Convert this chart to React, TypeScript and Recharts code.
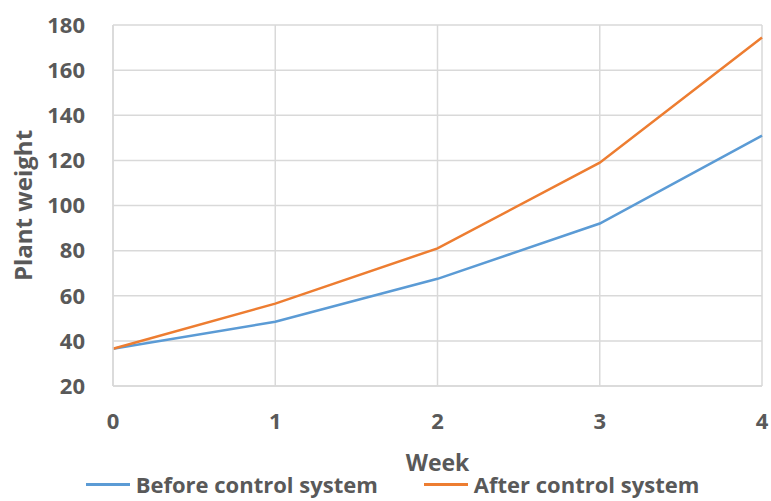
import React from "react";
import {
  LineChart,
  Line,
  XAxis,
  YAxis,
  CartesianGrid,
  Legend,
} from "recharts";

const weeks = [0, 1, 2, 3, 4];
const beforeControl = [36.5, 48.5, 67.5, 92, 131];
const afterControl = [36.5, 56.5, 81, 119, 174.5];
const yTicks = [20, 40, 60, 80, 100, 120, 140, 160, 180];

const data = weeks.map((w, i) => ({
  week: w,
  before: beforeControl[i],
  after: afterControl[i],
}));

const FONT = "'Open Sans', 'DejaVu Sans', sans-serif";
const TEXT = "#595959";
const GRID = "#d9d9d9";

const series = [
  { key: "before", name: "Before control system", color: "#5b9bd5" },
  { key: "after", name: "After control system", color: "#ed7d31" },
];

function LegendContent() {
  return (
    <div
      style={{
        display: "flex",
        justifyContent: "center",
        gap: 46,
        fontFamily: FONT,
        fontWeight: 700,
        fontSize: 22,
        color: TEXT,
        lineHeight: "22px",
      }}
    >
      {series.map((s) => (
        <div key={s.key} style={{ display: "flex", alignItems: "center" }}>
          <span
            style={{
              display: "inline-block",
              width: 44,
              height: 3,
              background: s.color,
              marginRight: 6,
            }}
          />
          {s.name}
        </div>
      ))}
    </div>
  );
}

export default function App() {
  return (
    <div style={{ position: "absolute", left: 0, top: 0, background: "#fff" }}>
      <LineChart
        width={771}
        height={501}
        data={data}
        margin={{ top: 25, right: 9, bottom: 0, left: 23 }}
      >
        <CartesianGrid stroke={GRID} strokeWidth={1.5} />
        <XAxis
          dataKey="week"
          type="number"
          domain={[0, 4]}
          ticks={weeks}
          axisLine={{ stroke: GRID, strokeWidth: 1.5 }}
          tickLine={false}
          tickSize={0}
          tickMargin={27}
          height={93}
          tick={{ fontSize: 22, fontWeight: 700, fill: TEXT, fontFamily: FONT }}
          label={{
            value: "Week",
            position: "insideBottom",
            offset: 8,
            style: { fontSize: 23, fontWeight: 700, fill: TEXT, fontFamily: FONT },
          }}
        />
        <YAxis
          domain={[20, 180]}
          ticks={yTicks}
          interval={0}
          width={90}
          axisLine={{ stroke: GRID, strokeWidth: 1.5 }}
          tickLine={false}
          tickSize={0}
          tickMargin={28}
          tick={{ fontSize: 22, fontWeight: 700, fill: TEXT, fontFamily: FONT }}
          label={{
            value: "Plant weight",
            angle: -90,
            position: "insideLeft",
            offset: 0,
            style: {
              fontSize: 24,
              fontWeight: 700,
              fill: TEXT,
              fontFamily: FONT,
              textAnchor: "middle",
            },
          }}
        />
        <Legend
          verticalAlign="bottom"
          height={22}
          wrapperStyle={{ bottom: 6 }}
          content={<LegendContent />}
        />
        {series.map((s) => (
          <Line
            key={s.key}
            type="linear"
            dataKey={s.key}
            name={s.name}
            stroke={s.color}
            strokeWidth={2.5}
            dot={false}
            activeDot={false}
            isAnimationActive={false}
          />
        ))}
      </LineChart>
    </div>
  );
}
